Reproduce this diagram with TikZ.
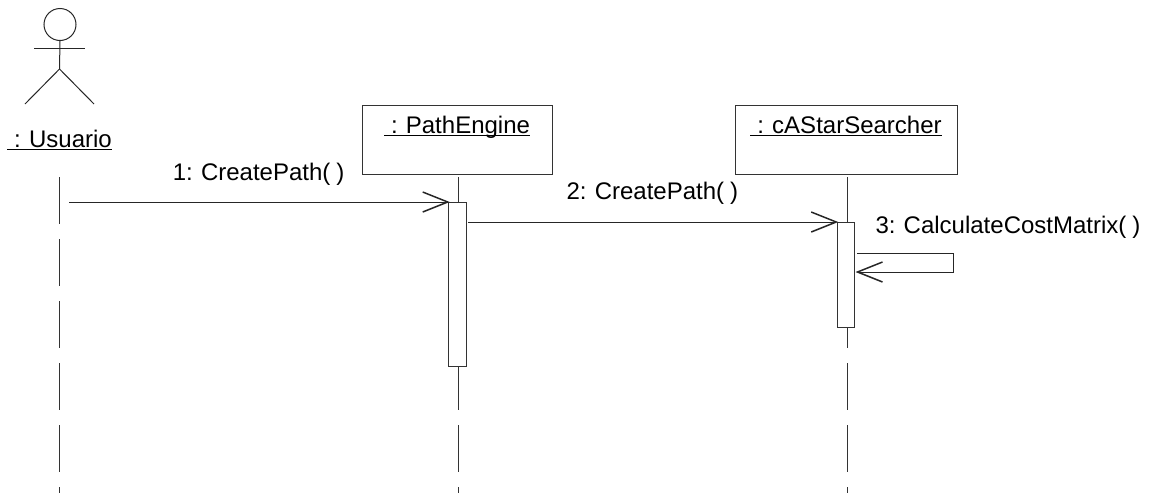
\documentclass[tikz,border=0pt]{standalone}
\usepackage{fontspec}
\setmainfont{Liberation Sans}
\usetikzlibrary{arrows.meta,positioning}
\newsavebox{\namebox}
\newcommand{\objname}[1]{\sbox{\namebox}{\hspace*{7pt}#1}\rlap{\rule[-3.2pt]{\wd\namebox}{1.5pt}}\usebox{\namebox}}
\newcommand{\umlfont}{\fontsize{24}{28}\selectfont\spaceskip=6pt\relax}

\begin{document}
\begin{tikzpicture}[
  x=1pt, y=-1pt,
  node distance=3pt and 182pt,
  line width=1pt,
  objbox/.style={rectangle, draw=black!80, fill=white, inner sep=6pt, text=black,
                 text height=22pt, text depth=35pt, font=\umlfont},
  actbar/.style={rectangle, draw=black!80, fill=white, inner sep=0pt, minimum width=17.5pt},
  life/.style={black!80, dash pattern=on 46.5pt off 15.5pt},
  msgtext/.style={inner sep=0pt, text depth=0pt, text=black, font=\umlfont},
  arr/.style={-{Straight Barb[length=25pt, width=20pt, line width=1.5pt]}, black!85, shorten >=-1.5pt}
]
\useasboundingbox (0,0) rectangle (1149,493);

% actor
\node[circle, draw=black!85, inner sep=0pt, minimum size=32pt] (head) at (60,24.5) {};
\coordinate (neck) at (59.5,48);
\coordinate (hip) at (59.5,69);
\coordinate (larm) at (34,48);
\coordinate (rarm) at (84.5,48);
\coordinate (lleg) at (25,104);
\coordinate (rleg) at (94,104);
\draw[black!85] (head.south) -- (hip) -- (lleg);
\draw[black!85] (hip) -- (rleg);
\draw[black!85] (larm) -- (rarm);
\node[msgtext, anchor=base] (usuario) at (59.5,147) {\objname{: Usuario}};

% objects
\node[objbox, minimum width=190pt] (engine) at (457,139.5) {\objname{: PathEngine}};
\node[objbox, minimum width=222pt, right=of engine] (searcher) {\objname{: cAStarSearcher}};

% lifelines
\coordinate (ulife) at (59.5,177);
\coordinate (elife) at (458,177);
\coordinate (slife) at (847,177);
\draw[life] (ulife) -- (59.5,493);
\draw[life] (elife) -- (458,493);
\draw[life] (slife) -- (847,493);

% activations
\node[actbar, minimum height=164pt, anchor=north] (eact) at (457.5,202) {};
\node[actbar, minimum height=105pt, anchor=north] (sact) at (846,222) {};

% messages
\coordinate (m1start) at (69,202);
\coordinate (m2start) at (468,222);
\coordinate (m3start) at (857,253);
\coordinate (m3top) at (953,253);
\coordinate (m3low) at (953,272);
\coordinate (m3end) at (857,272);
\draw[arr] (m1start) -- (eact.north west) node[msgtext, midway, above=21pt] (m1) {1: CreatePath( )};
\draw[arr] (m2start) -- (sact.north west) node[msgtext, midway, above=22pt] (m2) {2: CreatePath( )};
\draw[arr] (m3start) -- (m3top) -- (m3low) -- (m3end);
\node[msgtext, anchor=base west] (m3) at (875,233) {3: CalculateCostMatrix( )};
\end{tikzpicture}
\end{document}
